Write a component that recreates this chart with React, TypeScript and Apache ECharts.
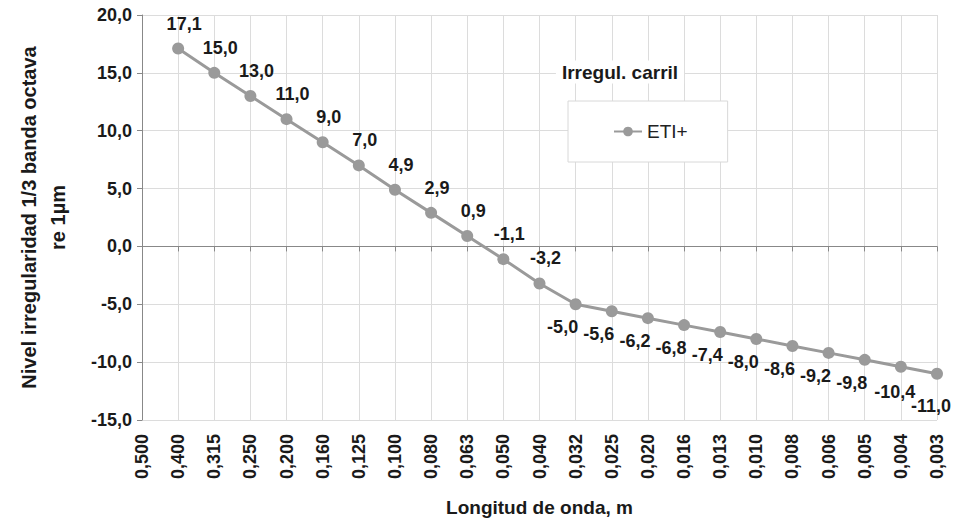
import React, { useEffect, useRef } from "react";
import * as echarts from "echarts";

const categories = [
  "0,500", "0,400", "0,315", "0,250", "0,200", "0,160", "0,125", "0,100",
  "0,080", "0,063", "0,050", "0,040", "0,032", "0,025", "0,020", "0,016",
  "0,013", "0,010", "0,008", "0,006", "0,005", "0,004", "0,003",
];
const etiValues: (number | null)[] = [
  null, 17.1, 15.0, 13.0, 11.0, 9.0, 7.0, 4.9, 2.9, 0.9, -1.1, -3.2,
  -5.0, -5.6, -6.2, -6.8, -7.4, -8.0, -8.6, -9.2, -9.8, -10.4, -11.0,
];
const seriesName = "ETI+";
const legendTitle = "Irregul. carril";
const xAxisName = "Longitud de onda, m";
const yAxisName = "Nivel irregularidad 1/3 banda octava\nre 1µm";

const fmt = (v: number) => v.toFixed(1).replace(".", ",");
const FONT = "Liberation Sans, Arial, sans-serif";

export default function App() {
  const ref = useRef<HTMLDivElement>(null);
  useEffect(() => {
    if (!ref.current) return;
    const chart = echarts.init(ref.current, null, { renderer: "svg" });
    const n = etiValues.length;
    const data = etiValues.map((v, i) => {
      if (v === null) return { value: null };
      const below = v <= -5;
      let offset: number[] = below ? [-13, 3] : [6, -5];
      if (i === n - 2) offset = [-6, 5];
      if (i === n - 1) offset = [-6, 12];
      return {
        value: v,
        label: { position: below ? "bottom" : "top", offset },
      };
    });
    chart.setOption({
      animation: false,
      textStyle: { fontFamily: FONT },
      grid: {
        left: 142,
        right: 21,
        top: 15,
        bottom: 107,
        containLabel: false,
        outerBoundsMode: "none",
      },
      graphic: [
        {
          type: "text",
          x: 620,
          y: 72,
          z: 10,
          style: {
            text: legendTitle,
            font: `bold 19px ${FONT}`,
            fill: "#1a1a1a",
            align: "center",
            verticalAlign: "middle",
            backgroundColor: "#fff",
            padding: [2, 6],
          },
        },
      ],
      legend: {
        data: [seriesName],
        left: 568,
        top: 101,
        padding: [21, 40, 21, 45],
        backgroundColor: "#fff",
        borderColor: "#d8d8d8",
        borderWidth: 1,
        itemWidth: 28,
        itemHeight: 12,
        itemGap: 4,
        textStyle: { fontSize: 19, color: "#222", fontFamily: FONT },
      },
      xAxis: {
        type: "category",
        data: categories,
        boundaryGap: false,
        name: xAxisName,
        nameLocation: "middle",
        nameGap: 78,
        nameTextStyle: { fontSize: 19, fontWeight: "bold", color: "#1a1a1a", fontFamily: FONT },
        axisLine: { lineStyle: { color: "#888", width: 1 } },
        axisTick: { show: true, length: 5, alignWithLabel: true, lineStyle: { color: "#888" } },
        axisLabel: {
          rotate: 90,
          interval: 0,
          fontSize: 18,
          fontWeight: "bold",
          color: "#1a1a1a",
          margin: 14,
          fontFamily: FONT,
        },
        splitLine: { show: true, lineStyle: { color: "#dcdcdc", width: 1 } },
      },
      yAxis: {
        type: "value",
        min: -15,
        max: 20,
        interval: 5,
        name: yAxisName,
        nameLocation: "middle",
        nameGap: 70,
        nameTextStyle: {
          fontSize: 20,
          fontWeight: "bold",
          color: "#1a1a1a",
          lineHeight: 29,
          fontFamily: FONT,
        },
        axisLine: { show: true, lineStyle: { color: "#888", width: 1 } },
        axisTick: { show: true, length: 5, lineStyle: { color: "#888" } },
        axisLabel: {
          formatter: (v: number) => fmt(v),
          fontSize: 18,
          fontWeight: "bold",
          color: "#1a1a1a",
          margin: 10,
          fontFamily: FONT,
        },
        splitLine: { show: true, lineStyle: { color: "#dcdcdc", width: 1 } },
      },
      series: [
        {
          name: seriesName,
          type: "line",
          data,
          symbol: "circle",
          symbolSize: 12,
          connectNulls: false,
          itemStyle: { color: "#9a9a9a" },
          lineStyle: { color: "#9a9a9a", width: 3 },
          label: {
            show: true,
            formatter: (p: any) => fmt(p.value),
            fontSize: 18,
            fontWeight: "bold",
            color: "#1a1a1a",
            fontFamily: FONT,
          },
        },
      ],
    });
    return () => chart.dispose();
  }, []);
  return <div ref={ref} style={{ width: 958, height: 527, position: "absolute", left: 0, top: 0 }} />;
}
